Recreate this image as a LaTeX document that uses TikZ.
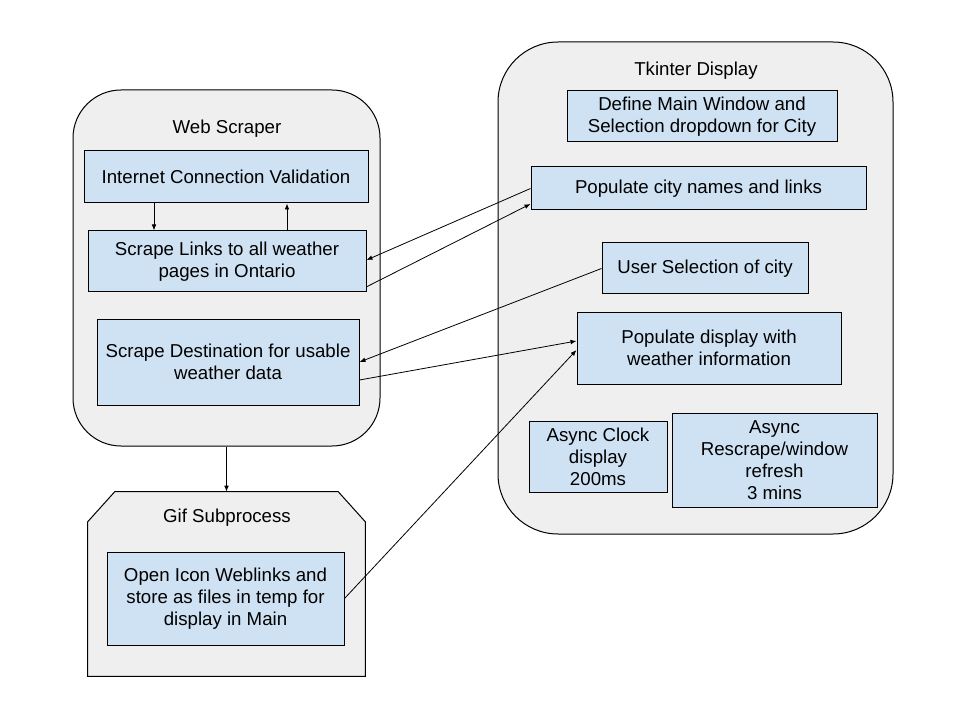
\documentclass[tikz,border=0pt]{standalone}
\usepackage{fontspec}
\setmainfont{Liberation Sans}
\usetikzlibrary{arrows.meta}
\definecolor{boxblue}{HTML}{CFE2F3}
\definecolor{contgray}{HTML}{EFEFEF}
\begin{document}
\begin{tikzpicture}[x=0.75pt,y=-0.75pt]
\tikzstyle{every node}+=[inner sep=0pt]
\tikzstyle{cont}=[draw=black, line width=0.75pt, fill=contgray]
\tikzstyle{box}=[draw=black, line width=0.75pt, fill=boxblue, align=center, font=\fontsize{14}{16.4}\selectfont]
\tikzstyle{title}=[font=\fontsize{14}{16.4}\selectfont]
\tikzstyle{link}=[draw=black, line width=0.6pt, -{Latex[length=4.5pt,width=3.5pt]}]
\useasboundingbox (0,0) rectangle (960,720);
% containers
\node [cont, rounded corners=36pt, minimum width=230.25pt, minimum height=267pt] (scraper) at (226.5,268) {};
\node [cont, rounded corners=45pt, minimum width=296.25pt, minimum height=369pt] (tkinter) at (695.5,288) {};
\node [minimum width=207.75pt, minimum height=138pt] (gif) at (226.5,584) {};
\draw [cont] ([xshift=20.25pt]gif.north west) -- ([xshift=-20.25pt]gif.north east) -- ([yshift=-22.5pt]gif.north east) -- (gif.south east) -- (gif.south west) -- ([yshift=-22.5pt]gif.north west) -- cycle;
\node [title] (scrapertitle) at (227,128.5) {Web Scraper};
\node [title] (tkintertitle) at (696,70.5) {Tkinter Display};
\node [title] (giftitle) at (227,517.5) {Gif Subprocess};
% web scraper
\node [box, minimum width=213pt, minimum height=39pt] (inet) at (226,177) {Internet Connection Validation};
\node [box, minimum width=208.5pt, minimum height=45.75pt] (links) at (227,261.5) {Scrape Links to all weather\\pages in Ontario};
\node [box, minimum width=196.5pt, minimum height=64.5pt] (dest) at (228,362) {Scrape Destination for usable\\weather data};
% gif subprocess
\node [box, minimum width=177.75pt, minimum height=69.75pt] (icon) at (225.5,598.5) {Open Icon Weblinks and\\store as files in temp for\\display in Main};
% tkinter display
\node [box, minimum width=202.5pt, minimum height=38.25pt] (mainwin) at (702,116.5) {Define Main Window and\\Selection dropdown for City};
\node [box, minimum width=251.25pt, minimum height=32.25pt] (cities) at (698.5,188.5) {Populate city names and links};
\node [box, minimum width=154.5pt, minimum height=38.25pt] (usersel) at (705,268.5) {User Selection of city};
\node [box, minimum width=198pt, minimum height=54pt] (display) at (709,348) {Populate display with\\weather information};
\node [box, minimum width=103.5pt, minimum height=53.25pt] (clock) at (598,456.5) {Async Clock\\display\\200ms};
\node [box, minimum width=153.75pt, minimum height=70.5pt] (rescrape) at (774.5,460) {Async\\Rescrape/window\\refresh\\3 mins};
% connectors
\draw [link] ([xshift=-54pt]inet.south) -- ([xshift=-54pt]inet.south |- links.north);
\draw [link] ([xshift=45pt]links.north) -- ([xshift=45pt]links.north |- inet.south);
\draw [link] (cities.west) -- ([yshift=1.1pt]links.east);
\draw [link] ([yshift=-19pt]links.east) -- ([yshift=-11.6pt]cities.west);
\draw [link] (usersel.west) -- (dest.east);
\draw [link] ([yshift=-13.5pt]dest.east) -- ([yshift=5.25pt]display.west);
\draw [link] (icon.east) -- ([yshift=-1.5pt]display.west);
\draw [link] (scraper.south) -- (gif.north);
\end{tikzpicture}
\end{document}
